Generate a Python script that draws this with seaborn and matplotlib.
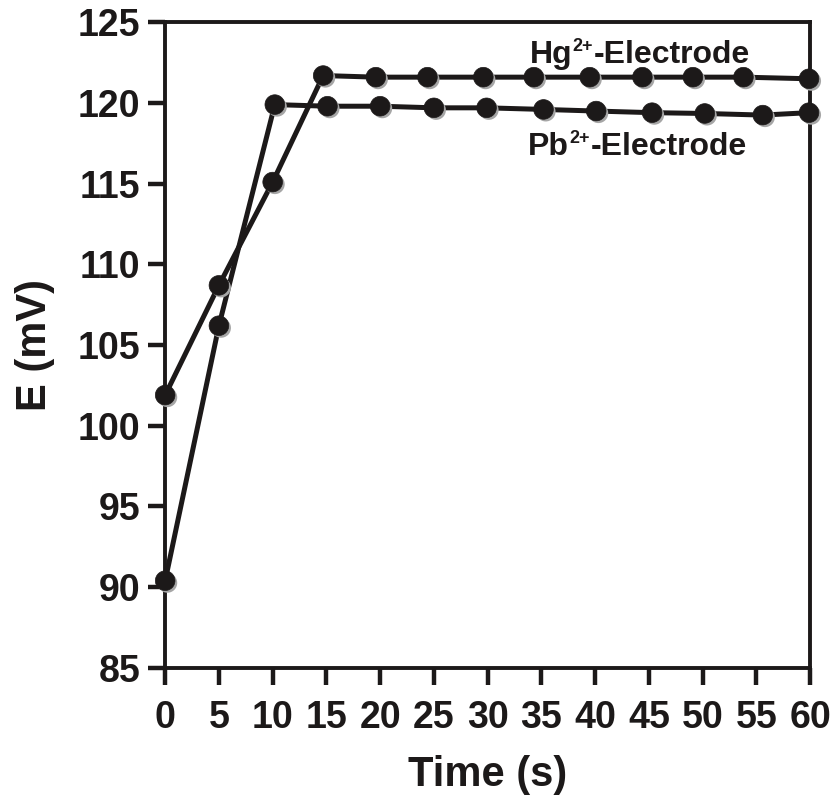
import matplotlib
matplotlib.use("Agg")
import matplotlib.pyplot as plt
import matplotlib.patheffects as pe
import seaborn as sns
import pandas as pd

# ---- data ----
hg_time = [0, 5, 10, 14.7, 19.6, 24.4, 29.6, 34.3, 39.5, 44.4, 49.1, 53.8, 59.9]
hg_E = [101.9, 108.7, 115.1, 121.7, 121.6, 121.6, 121.6, 121.6, 121.6, 121.6, 121.6, 121.6, 121.5]
pb_time = [0, 5, 10.2, 15.1, 20.0, 25.0, 29.9, 35.2, 40.1, 45.3, 50.2, 55.6, 59.9]
pb_E = [90.4, 106.2, 119.9, 119.8, 119.8, 119.7, 119.7, 119.6, 119.5, 119.4, 119.35, 119.25, 119.4]
x_ticks = [0, 5, 10, 15, 20, 25, 30, 35, 40, 45, 50, 55, 60]
y_ticks = [85, 90, 95, 100, 105, 110, 115, 120, 125]
label_ions = ["Hg", "Pb"]
label_charge = "2+"
label_suffix = "-Electrode"

sns.set_style("white")
fam = ["Liberation Sans Narrow", "Liberation Sans", "DejaVu Sans"]
plt.rcParams["font.family"] = fam
plt.rcParams["font.weight"] = "bold"

INK = "#1c1919"

df_hg = pd.DataFrame({"t": hg_time, "E": hg_E})
df_pb = pd.DataFrame({"t": pb_time, "E": pb_E})

fig = plt.figure(figsize=(8.3, 7.96), dpi=100)
ax = fig.add_axes([0.199, 0.161, 0.777, 0.811])

for df in (df_hg, df_pb):
    sns.lineplot(data=df, x="t", y="E", ax=ax, color=INK, linewidth=3.6,
                 sort=False, clip_on=False, zorder=3)
    sns.scatterplot(data=df, x="t", y="E", ax=ax, color=INK, s=200,
                    edgecolor=INK, linewidth=0.5, clip_on=False, zorder=4)
    coll = ax.collections[-1]
    coll.set_path_effects([
        pe.SimplePatchShadow(offset=(1.6, -1.6), shadow_rgbFace="0.65", alpha=1.0),
        pe.Normal(),
    ])

ax.set_xlim(0, 60)
ax.set_ylim(85, 125)
ax.set_xticks(x_ticks)
ax.set_yticks(y_ticks)
ax.tick_params(axis="both", which="major", bottom=True, left=True, direction="out",
               length=12, width=3.2, colors=INK, labelsize=27, labelcolor=INK)
ax.tick_params(axis="x", pad=11)
ax.tick_params(axis="y", pad=6)
for lab in ax.get_xticklabels() + ax.get_yticklabels():
    lab.set_fontweight("bold")

for s in ax.spines.values():
    s.set_visible(True)
    s.set_linewidth(2.8)
    s.set_color(INK)

ax.set_xlabel("Time (s)", fontsize=30, fontweight="bold", color=INK, labelpad=14)
ax.set_ylabel("E (mV)", fontsize=30, fontweight="bold", color=INK, labelpad=16)

for ion, (x0, y0) in zip(label_ions, [(33.9, 122.5), (33.7, 116.8)]):
    t1 = ax.text(x0, y0, ion, fontsize=23, fontweight="bold", color=INK,
                 va="baseline", ha="left")
    t2 = ax.annotate(label_charge, xy=(1, 1), xycoords=t1, xytext=(0.5, 1),
                     textcoords="offset points", fontsize=13, fontweight="bold",
                     color=INK, va="top", ha="left")
    ax.annotate(label_suffix, xy=(1, y0), xycoords=(t2, "data"), xytext=(0.5, 0),
                textcoords="offset points", fontsize=23, fontweight="bold",
                color=INK, va="baseline", ha="left")

fig.savefig("out.png", dpi=100)
